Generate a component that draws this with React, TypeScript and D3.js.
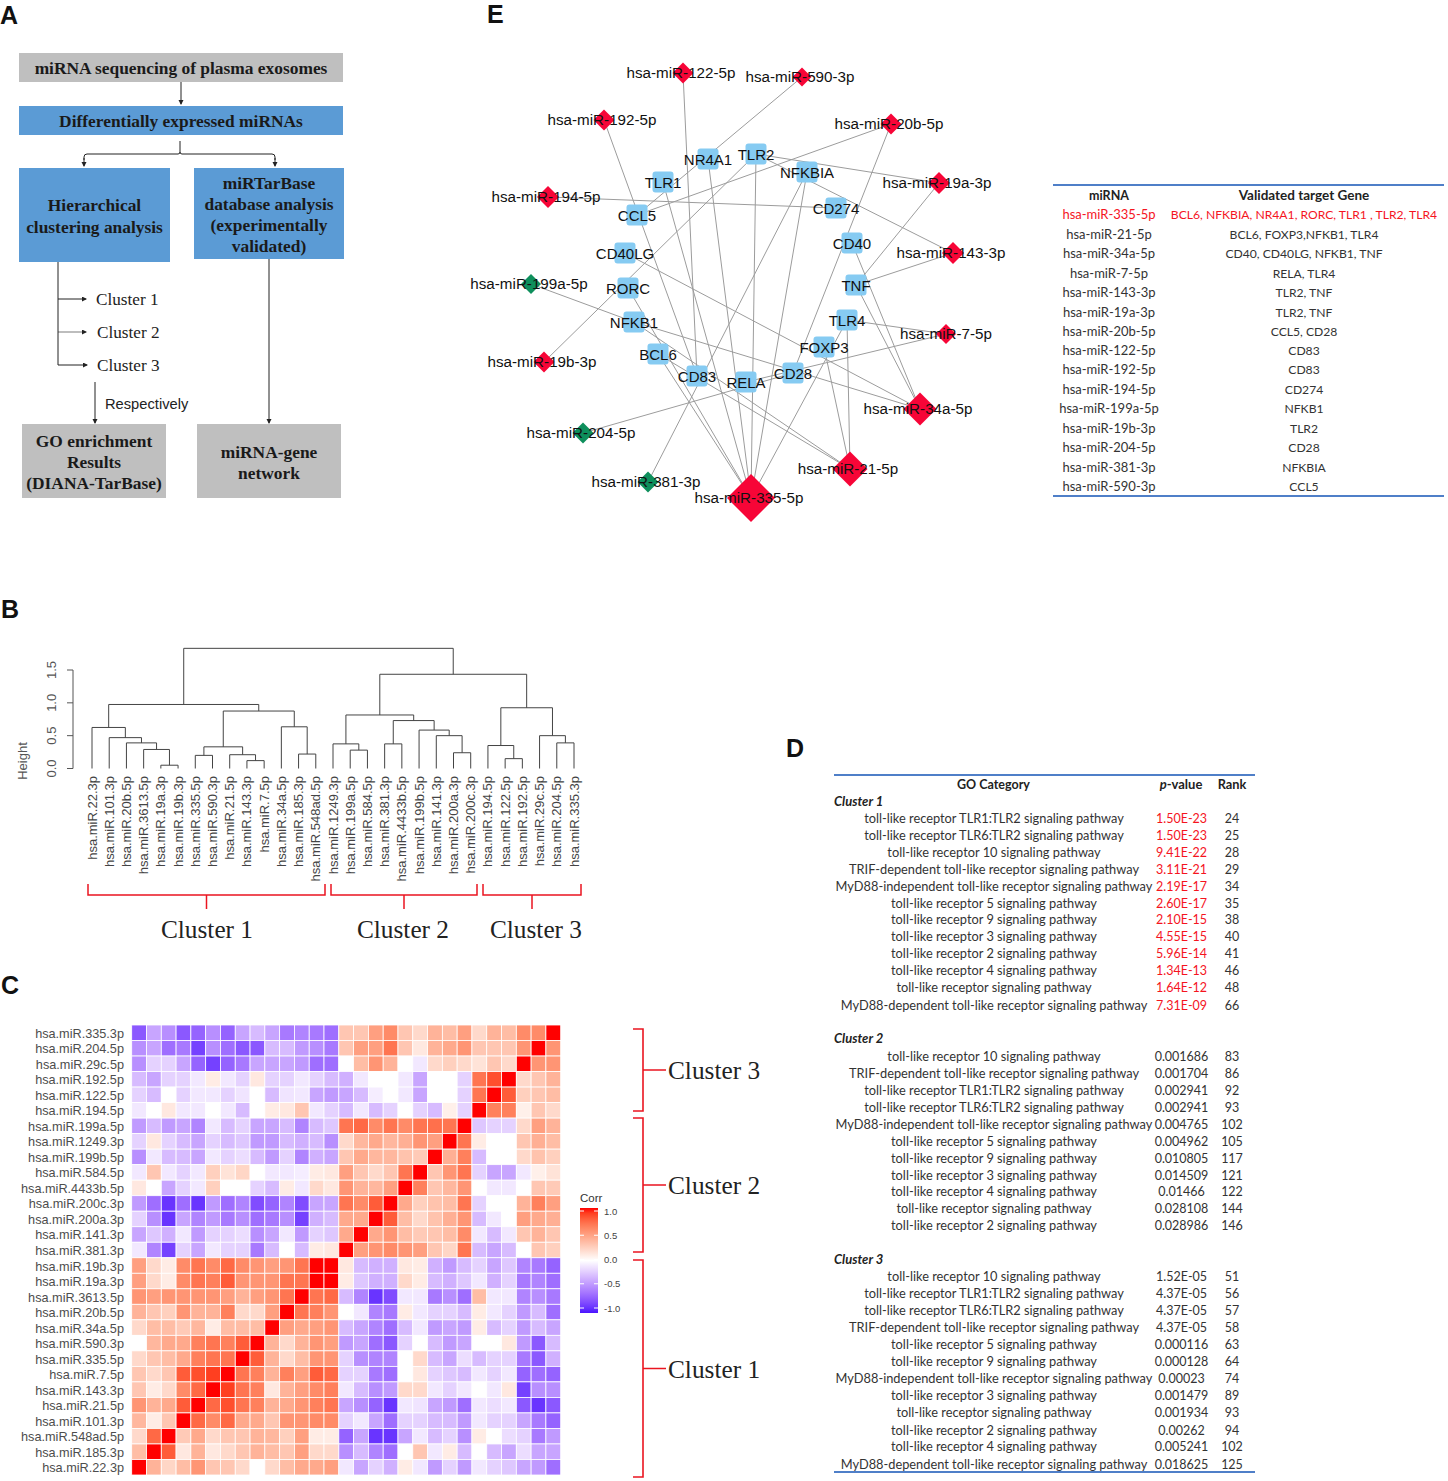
import React from "react";
import * as d3 from "d3";

// ---------- Panel B / C data ----------
const dendroLeaves = ["hsa.miR.22.3p","hsa.miR.101.3p","hsa.miR.20b.5p","hsa.miR.3613.5p","hsa.miR.19a.3p","hsa.miR.19b.3p","hsa.miR.335.5p","hsa.miR.590.3p","hsa.miR.21.5p","hsa.miR.143.3p","hsa.miR.7.5p","hsa.miR.34a.5p","hsa.miR.185.3p","hsa.miR.548ad.5p","hsa.miR.1249.3p","hsa.miR.199a.5p","hsa.miR.584.5p","hsa.miR.381.3p","hsa.miR.4433b.5p","hsa.miR.199b.5p","hsa.miR.141.3p","hsa.miR.200a.3p","hsa.miR.200c.3p","hsa.miR.194.5p","hsa.miR.122.5p","hsa.miR.192.5p","hsa.miR.29c.5p","hsa.miR.204.5p","hsa.miR.335.3p"];
// Merges: [left, right, height]. number = leaf index, "mN" = merge N
const dendroMerges: [string | number, string | number, number][] = [
  [4, 5, 0.05],        // m0
  [3, "m0", 0.29],     // m1
  [2, "m1", 0.39],     // m2
  [1, "m2", 0.47],     // m3
  [0, "m3", 0.625],    // m4
  [6, 7, 0.2],         // m5
  [9, 10, 0.12],       // m6
  [8, "m6", 0.21],     // m7
  ["m5", "m7", 0.33],  // m8
  [12, 13, 0.22],      // m9
  [11, "m9", 0.635],   // m10
  ["m8", "m10", 0.875],// m11
  ["m4", "m11", 0.975],// m12
  [15, 16, 0.28],      // m13
  [14, "m13", 0.375],  // m14
  [21, 22, 0.24],      // m15
  [20, "m15", 0.5],    // m16
  [19, "m16", 0.585],  // m17
  [17, 18, 0.375],     // m18
  ["m18", "m17", 0.73],// m19
  ["m14", "m19", 0.815],// m20
  [24, 25, 0.15],      // m21
  [23, "m21", 0.35],   // m22
  [27, 28, 0.39],      // m23
  [26, "m23", 0.5],    // m24
  ["m22", "m24", 0.925],// m25
  ["m20", "m25", 1.435],// m26
  ["m12", "m26", 1.83],// m27
];
const heightTicks = [0, 0.5, 1, 1.5];

const heatRows = ["hsa.miR.335.3p","hsa.miR.204.5p","hsa.miR.29c.5p","hsa.miR.192.5p","hsa.miR.122.5p","hsa.miR.194.5p","hsa.miR.199a.5p","hsa.miR.1249.3p","hsa.miR.199b.5p","hsa.miR.584.5p","hsa.miR.4433b.5p","hsa.miR.200c.3p","hsa.miR.200a.3p","hsa.miR.141.3p","hsa.miR.381.3p","hsa.miR.19b.3p","hsa.miR.19a.3p","hsa.miR.3613.5p","hsa.miR.20b.5p","hsa.miR.34a.5p","hsa.miR.590.3p","hsa.miR.335.5p","hsa.miR.7.5p","hsa.miR.143.3p","hsa.miR.21.5p","hsa.miR.101.3p","hsa.miR.548ad.5p","hsa.miR.185.3p","hsa.miR.22.3p"];
const heatValues: number[][] = [
[-.75,-.4,-.5,-.75,-.7,-.5,-.7,-.4,-.3,-.4,-.6,-.55,-.6,-.65,.3,.3,.5,.6,.3,.2,.4,.35,.5,.2,.4,.35,.6,.6,1],
[-.5,-.4,-.65,-.6,-.85,-.5,-.65,-.75,-.75,-.3,-.3,-.45,-.5,-.6,.3,.5,.5,.7,.3,.12,.4,.45,.55,.3,.3,.3,.55,1,.55],
[-.5,-.2,-.2,-.4,-.7,-.85,-.7,-.6,-.4,-.4,-.4,-.45,-.65,-.65,0,.35,.55,.4,0,-.1,.2,.25,.2,.15,.3,.2,1,.55,.55],
[-.3,-.4,-.2,-.2,-.1,.1,-.1,-.2,.12,-.2,-.2,-.1,-.2,-.3,-.35,-.1,0,0,-.1,-.4,0,0,-.2,.7,.85,1,.2,.3,.4],
[-.2,-.3,0,-.2,-.1,-.1,-.2,-.12,0,-.3,-.12,-.1,-.4,-.45,-.4,-.3,-.08,0,-.1,-.4,0,0,-.2,.7,1,.8,.25,.3,.35],
[-.1,0,.12,-.1,-.1,0,-.1,-.3,0,.1,.12,.3,-.1,-.2,-.3,-.1,-.3,-.2,0,-.2,-.3,.08,-.2,1,.65,.65,.08,.3,.2],
[-.45,-.3,-.45,-.4,-.55,-.1,-.3,-.2,-.4,-.4,-.3,-.55,-.3,-.25,.7,.75,.6,.7,.6,.7,.72,.7,1,-.25,-.2,-.2,.2,.5,.4],
[-.2,.12,-.2,-.3,-.4,-.2,-.3,-.25,-.45,-.45,-.3,-.35,-.3,-.5,.2,.38,.45,.38,.42,.55,.5,1,.7,.1,0,0,.3,.42,.35],
[-.5,-.1,-.3,-.3,-.4,-.1,-.2,-.15,-.3,-.45,-.2,-.55,-.35,-.4,.3,.45,.38,.38,.32,.28,1,.42,.65,-.3,0,0,.2,.32,.25],
[-.1,.3,-.1,-.2,-.1,.25,.15,.22,0,-.1,-.1,-.08,.1,.12,.5,.3,.2,.3,.7,1,.3,.55,.7,-.2,-.4,-.4,-.1,.08,.15],
[.12,0,-.4,-.2,-.1,.25,0,0,-.2,-.3,.1,-.1,.2,.12,.55,.4,.38,.5,1,.65,.3,.38,.55,0,-.1,-.1,0,.3,.28],
[-.45,-.65,-.9,-.65,-.9,-.45,-.65,-.55,-.8,-.7,-.55,-.8,-.4,-.4,.7,.6,.8,1,.45,.25,.32,.35,.7,-.2,0,0,.4,.65,.5],
[-.2,-.5,-.9,-.4,-.55,-.45,-.6,-.5,-.65,-.6,-.5,-.85,-.35,-.3,.45,.45,1,.8,.35,.2,.32,.42,.55,-.3,-.1,0,.5,.45,.42],
[-.4,-.25,-.35,-.1,-.45,-.2,-.2,-.15,-.5,-.4,-.1,-.45,-.2,-.25,.45,1,.45,.55,.35,.28,.3,.35,.6,-.1,-.3,-.1,.3,.4,.3],
[-.1,-.55,-.85,-.2,-.4,-.1,-.2,-.2,-.6,-.3,0,-.3,.1,.12,1,.5,.55,.6,.55,.5,.3,.22,.7,-.3,-.4,-.3,0,.3,.25],
[.5,.2,.1,.6,.7,.6,.75,.6,.55,.5,.55,.7,1,1,.12,-.3,-.35,-.35,.12,.1,-.35,-.45,-.3,-.2,-.4,-.25,-.55,-.6,-.7],
[.5,.2,.1,.6,.7,.65,.8,.55,.55,.55,.7,.7,1,1,.1,-.25,-.35,-.35,.2,.1,-.3,-.35,-.25,-.1,-.35,-.2,-.6,-.55,-.65],
[.55,.5,.55,.55,.55,.55,.5,.4,.5,.55,.7,1,.7,.75,-.3,-.55,-.9,-.8,-.1,-.1,-.6,-.5,-.65,.35,-.1,-.1,-.55,-.5,-.6],
[.4,.3,.25,.55,.4,.4,.65,.2,.2,.5,1,.7,.65,.55,0,-.1,-.55,-.6,.1,-.1,-.2,-.2,-.3,.1,-.1,-.2,-.45,-.3,-.65],
[.2,.35,.35,.28,.38,.1,.35,.35,.35,1,.5,.45,.5,.55,-.3,-.4,-.55,-.65,-.3,-.1,-.45,-.4,-.45,.1,-.3,-.2,-.45,-.3,-.4],
[0,.38,.45,.45,.65,.7,.65,.8,1,.4,.2,.4,.55,.5,-.45,-.4,-.65,-.75,-.2,0,-.3,-.45,-.4,0,0,.12,-.45,-.75,-.3],
[.2,.3,.35,.45,.65,.7,.7,1,.8,.4,.2,.35,.55,.55,-.2,-.5,-.55,-.55,0,.2,-.3,-.4,-.15,-.3,-.2,-.2,-.6,-.75,-.35],
[.3,.2,.3,.8,.85,.9,1,.7,.65,.4,.65,.5,.8,.75,-.2,-.2,-.6,-.65,0,.12,-.2,-.25,-.3,-.1,-.2,-.1,-.7,-.65,-.7],
[.3,.1,.2,.6,.75,1,.9,.7,.65,.12,.4,.5,.6,.65,-.1,-.3,-.5,-.45,.2,.2,-.1,-.2,-.1,0,-.1,.12,-.85,-.5,-.5],
[.55,.4,.45,.8,1,.75,.85,.7,.65,.4,.45,.55,.65,.7,-.4,-.5,-.7,-.9,-.1,-.12,-.4,-.45,-.65,-.1,-.15,-.1,-.75,-.9,-.75],
[.38,.1,.3,1,.75,.6,.75,.45,.45,.3,.55,.55,.6,.6,-.2,-.1,-.4,-.65,-.2,-.2,-.3,-.3,-.45,-.1,-.2,-.2,-.4,-.6,-.7],
[.2,.75,1,.28,.45,.2,.3,.3,.4,.38,.25,.5,.1,.1,-.7,-.4,-.9,-.9,-.4,-.1,-.3,-.2,-.5,.1,0,-.15,-.2,-.6,-.45],
[.35,1,.8,.12,.4,.12,.2,.3,.4,.35,.3,.5,.2,.2,-.5,-.3,-.55,-.65,0,.3,-.1,.1,-.3,0,-.3,-.4,-.15,-.4,-.4],
[1,.4,.22,.35,.55,.3,.3,.2,0,.2,.35,.45,.45,.5,-.1,-.4,-.2,-.35,.1,-.1,-.45,-.2,-.45,-.1,-.2,-.25,-.4,-.45,-.65],
];
const corrTicks = [1, 0.5, 0, -0.5, -1];

// ---------- Panel E data ----------
const geneNames = ["NR4A1","TLR2","TLR1","NFKBIA","CCL5","CD274","CD40","CD40LG","TNF","RORC","NFKB1","TLR4","BCL6","FOXP3","CD83","CD28","RELA"];
const geneX = [708,756,663,807,637,836,852,625,856,628,634,847,658,824,697,793,746];
const geneY = [159,154,182,172,215,208,243,253,285,288,322,320,354,347,376,373,382];
const mirNames = ["hsa-miR-122-5p","hsa-miR-590-3p","hsa-miR-192-5p","hsa-miR-20b-5p","hsa-miR-19a-3p","hsa-miR-194-5p","hsa-miR-143-3p","hsa-miR-199a-5p","hsa-miR-19b-3p","hsa-miR-7-5p","hsa-miR-34a-5p","hsa-miR-21-5p","hsa-miR-335-5p","hsa-miR-204-5p","hsa-miR-381-3p"];
const mirX = [683,802,604,891,939,548,953,531,544,946,920,850,751,583,648];
const mirY = [73,77,120,124,183,197,253,284,362,334,409,469,498,433,482];
const mirSize = [10.5,9.5,10.5,10.5,11,11,11,10,10.5,10,16.5,17.5,24,10.5,10.5];
const mirDown = ["hsa-miR-199a-5p","hsa-miR-204-5p","hsa-miR-381-3p"];
const targetTable: [string, string][] = [
  ["hsa-miR-335-5p","BCL6, NFKBIA, NR4A1, RORC, TLR1 , TLR2, TLR4"],
  ["hsa-miR-21-5p","BCL6, FOXP3,NFKB1, TLR4"],
  ["hsa-miR-34a-5p","CD40, CD40LG, NFKB1, TNF"],
  ["hsa-miR-7-5p","RELA, TLR4"],
  ["hsa-miR-143-3p","TLR2, TNF"],
  ["hsa-miR-19a-3p","TLR2, TNF"],
  ["hsa-miR-20b-5p","CCL5, CD28"],
  ["hsa-miR-122-5p","CD83"],
  ["hsa-miR-192-5p","CD83"],
  ["hsa-miR-194-5p","CD274"],
  ["hsa-miR-199a-5p","NFKB1"],
  ["hsa-miR-19b-3p","TLR2"],
  ["hsa-miR-204-5p","CD28"],
  ["hsa-miR-381-3p","NFKBIA"],
  ["hsa-miR-590-3p","CCL5"],
];
const targetRowY = [214.5,234,253.5,273,292.5,312,331.5,350,369.5,389,408,428,447.5,467,486.5];

// ---------- Panel D data ----------
const T = (s: string) => `toll-like receptor ${s} signaling pathway`;
const tIR = "toll-like receptor signaling pathway";
const tTRIF = "TRIF-dependent toll-like receptor signaling pathway";
const tMI = "MyD88-independent toll-like receptor signaling pathway";
const tMD = "MyD88-dependent toll-like receptor signaling pathway";
const cluster1Terms = [T("TLR1:TLR2"),T("TLR6:TLR2"),T("10"),tTRIF,tMI,T("5"),T("9"),T("3"),T("2"),T("4"),tIR,tMD];
const cluster1P = ["1.50E-23","1.50E-23","9.41E-22","3.11E-21","2.19E-17","2.60E-17","2.10E-15","4.55E-15","5.96E-14","1.34E-13","1.64E-12","7.31E-09"];
const cluster1Rank = [24,25,28,29,34,35,38,40,41,46,48,66];
const cluster1Y = [818,835,852,869.5,886,903,919.5,936.5,953,970,987,1005];
const cluster2Terms = [T("10"),tTRIF,T("TLR1:TLR2"),T("TLR6:TLR2"),tMI,T("5"),T("9"),T("3"),T("4"),tIR,T("2")];
const cluster2P = ["0.001686","0.001704","0.002941","0.002941","0.004765","0.004962","0.010805","0.014509","0.01466","0.028108","0.028986"];
const cluster2Rank = [83,86,92,93,102,105,117,121,122,144,146];
const cluster2Y = [1056,1073,1090,1107,1124,1141,1158,1175,1191,1208,1225];
const cluster3Terms = [T("10"),T("TLR1:TLR2"),T("TLR6:TLR2"),tTRIF,T("5"),T("9"),tMI,T("3"),tIR,T("2"),T("4"),tMD];
const cluster3P = ["1.52E-05","4.37E-05","4.37E-05","4.37E-05","0.000116","0.000128","0.00023","0.001479","0.001934","0.00262","0.005241","0.018625"];
const cluster3Rank = [51,56,57,58,63,64,74,89,93,94,102,125];
const cluster3Y = [1276,1293,1310,1327,1344,1361,1378,1395,1412,1430,1446,1464];

// ---------- Fonts / colours ----------
const SANS = "'Liberation Sans', Arial, sans-serif";
const SERIF = "'Liberation Serif', 'Times New Roman', serif";
const CAL = "Lato, sans-serif";
const BLUE = "#5b9bd5";
const GRAY = "#bfbfbf";
const RED = "#ea1520";
const RULE = "#4f7fc8";

function Arrow({ x1, y1, x2, y2, w = 1 }: { x1: number; y1: number; x2: number; y2: number; w?: number }) {
  return <line x1={x1} y1={y1} x2={x2} y2={y2} stroke="#222" strokeWidth={w} markerEnd="url(#ah)" />;
}

function PanelA() {
  const box = (x: number, y: number, w: number, h: number, fill: string, lines: string[], ys: number[]) => (
    <g>
      <rect x={x} y={y} width={w} height={h} fill={fill} />
      {lines.map((t, i) => (
        <text key={i} x={x + w / 2} y={ys[i]} textAnchor="middle" fontFamily={SERIF} fontWeight="bold" fontSize={17.4} fill="#1a1a1a">{t}</text>
      ))}
    </g>
  );
  return (
    <g>
      {box(19, 53, 324, 29, GRAY, ["miRNA sequencing of plasma exosomes"], [73.5])}
      {box(19, 106, 324, 29, BLUE, ["Differentially expressed miRNAs"], [127])}
      {box(19, 168, 151, 94, BLUE, ["Hierarchical", "clustering analysis"], [211, 232.5])}
      {box(194, 168, 150, 91, BLUE, ["miRTarBase", "database analysis", "(experimentally", "validated)"], [188.5, 209.5, 230.5, 251.5])}
      {box(22, 424, 144, 74, GRAY, ["GO enrichment", "Results", "(DIANA-TarBase)"], [446.5, 467.5, 488.5])}
      {box(197, 424, 144, 74, GRAY, ["miRNA-gene", "network"], [457.5, 478.5])}
      <Arrow x1={181} y1={82} x2={181} y2={104} />
      <path d="M180 141 L180 152 Q180 154 178 154 L87 154 Q84 154 84 157 L84 160 M180 152 Q180 154 182 154 L272 154 Q275 154 275 157 L275 160" fill="none" stroke="#222" strokeWidth={1} />
      <Arrow x1={84} y1={158} x2={84} y2={166} />
      <Arrow x1={275} y1={158} x2={275} y2={166} />
      <line x1={58} y1={262} x2={58} y2={365} stroke="#222" strokeWidth={1} />
      <Arrow x1={58} y1={299} x2={86} y2={299} />
      <Arrow x1={58} y1={332} x2={86} y2={332} w={0.6} />
      <Arrow x1={58} y1={365} x2={87} y2={365} />
      <Arrow x1={95} y1={382} x2={95} y2={423} />
      <Arrow x1={269} y1={259} x2={269} y2={423} />
      <text x={96} y={305} fontFamily={SERIF} fontSize={17.2} fill="#222">Cluster 1</text>
      <text x={97} y={338} fontFamily={SERIF} fontSize={17.2} fill="#222">Cluster 2</text>
      <text x={97} y={371} fontFamily={SERIF} fontSize={17.2} fill="#222">Cluster 3</text>
      <text x={105} y={409} fontFamily={SANS} fontSize={14.7} fill="#222">Respectively</text>
    </g>
  );
}

function PanelB() {
  const x = d3.scalePoint<number>().domain(d3.range(dendroLeaves.length)).range([92, 574]);
  const y = d3.scaleLinear().domain([0, 1.5]).range([768.5, 670]);
  const nodes: { x: number; h: number }[] = [];
  const resolve = (r: string | number) => {
    if (typeof r === "number") return { x: x(r) as number, h: 0 };
    return nodes[+r.slice(1)];
  };
  const paths: string[] = [];
  dendroMerges.forEach(([a, b, h]) => {
    const A = resolve(a), B = resolve(b);
    paths.push(`M${A.x} ${y(A.h)}V${y(h)}H${B.x}V${y(B.h)}`);
    nodes.push({ x: (A.x + B.x) / 2, h });
  });
  const brackets: [number, number, string, number][] = [
    [88, 325, "Cluster 1", 207],
    [331, 477, "Cluster 2", 403],
    [483, 581, "Cluster 3", 536],
  ];
  return (
    <g>
      {paths.map((d, i) => <path key={i} d={d} fill="none" stroke="#444" strokeWidth={1} />)}
      <path d={`M73 ${y(0)}V${y(1.5)}`} stroke="#555" fill="none" />
      {heightTicks.map(t => (
        <g key={t}>
          <line x1={67} x2={73} y1={y(t)} y2={y(t)} stroke="#555" />
          <text transform={`translate(56,${y(t)}) rotate(-90)`} textAnchor="middle" fontFamily={SANS} fontSize={13} fill="#555">{t.toFixed(1)}</text>
        </g>
      ))}
      <text transform="translate(27,761) rotate(-90)" textAnchor="middle" fontFamily={SANS} fontSize={13} fill="#555">Height</text>
      {dendroLeaves.map((l, i) => (
        <text key={l} transform={`translate(${(x(i) as number) + 4.5},776) rotate(-90)`} textAnchor="end" fontFamily={SANS} fontSize={13} fill="#444">{l}</text>
      ))}
      {brackets.map(([a, b, t, c]) => (
        <g key={t}>
          <path d={`M${a} 884V895H${b}V884M${(a + b) / 2} 895V909`} fill="none" stroke={RED} strokeWidth={1.5} />
          <text x={c} y={938} textAnchor="middle" fontFamily={SERIF} fontSize={25.3} fill="#222">{t}</text>
        </g>
      ))}
    </g>
  );
}

function PanelC() {
  const x = d3.scaleBand<number>().domain(d3.range(29)).range([131.7, 560.7]);
  const y = d3.scaleBand<string>().domain(heatRows).range([1025, 1475]);
  const color = d3.scaleLinear<string>().domain([-1, 0, 1]).range(["#4a14ff", "white", "red"]).interpolate(d3.interpolateLab);
  const legendY = d3.scaleLinear().domain([-1, 1]).range([1308, 1211]);
  const stops = d3.range(-1, 1.001, 0.1);
  const brackets: [number, number, string][] = [
    [1029, 1111, "Cluster 3"],
    [1118, 1252, "Cluster 2"],
    [1260, 1477, "Cluster 1"],
  ];
  return (
    <g>
      {heatRows.map((r, ri) => (
        <g key={r}>
          <text x={124} y={(y(r) as number) + y.bandwidth() / 2 + 5} textAnchor="end" fontFamily={SANS} fontSize={12.7} fill="#4d4d4d">{r}</text>
          {heatValues[ri].map((v, ci) => (
            <rect key={ci} x={x(ci)} y={y(r)} width={x.bandwidth()} height={y.bandwidth()} fill={color(v)} stroke="white" strokeWidth={0.8} />
          ))}
        </g>
      ))}
      <defs>
        <linearGradient id="corr" x1="0" y1="1" x2="0" y2="0">
          {stops.map(s => <stop key={s} offset={(s + 1) / 2} stopColor={color(s)} />)}
        </linearGradient>
      </defs>
      <text x={580} y={1202} fontFamily={SANS} fontSize={11.5} fill="#333">Corr</text>
      <rect x={580} y={1208} width={18} height={105} fill="url(#corr)" />
      {corrTicks.map(t => (
        <g key={t}>
          <line x1={580} x2={584} y1={legendY(t)} y2={legendY(t)} stroke="white" />
          <line x1={594} x2={598} y1={legendY(t)} y2={legendY(t)} stroke="white" />
          <text x={604} y={legendY(t) + 3.5} fontFamily={SANS} fontSize={9.5} fill="#444">{t.toFixed(1)}</text>
        </g>
      ))}
      {brackets.map(([a, b, t]) => (
        <g key={t}>
          <path d={`M633 ${a}H643V${b}H633M643 ${(a + b) / 2}H666`} fill="none" stroke={RED} strokeWidth={1.6} />
          <text x={668} y={(a + b) / 2 + 9} fontFamily={SERIF} fontSize={25.3} fill="#222">{t}</text>
        </g>
      ))}
    </g>
  );
}

function PanelE() {
  const pos = new Map<string, [number, number]>();
  geneNames.forEach((g, i) => pos.set(g, [geneX[i], geneY[i]]));
  mirNames.forEach((m, i) => pos.set(m, [mirX[i], mirY[i]]));
  const edges: [string, string][] = [];
  targetTable.forEach(([m, ts]) => ts.split(",").forEach(t => edges.push([m, t.trim()])));
  const line = d3.line();
  return (
    <g>
      {edges.map(([a, b], i) => (
        <path key={i} d={line([pos.get(a)!, pos.get(b)!]) as string} stroke="#9c9c9c" strokeWidth={1} fill="none" />
      ))}
      {geneNames.map((g, i) => (
        <rect key={g} x={geneX[i] - 10.5} y={geneY[i] - 10.5} width={21} height={21} rx={3} fill="#86cbf2" />
      ))}
      {mirNames.map((m, i) => {
        const s = mirSize[i];
        const cx = mirX[i], cy = mirY[i];
        return <path key={m} d={`M${cx} ${cy - s}L${cx + s} ${cy}L${cx} ${cy + s}L${cx - s} ${cy}Z`} fill={mirDown.includes(m) ? "#0e8f5c" : "#f70537"} />;
      })}
      {geneNames.map((g, i) => (
        <text key={g} x={geneX[i]} y={geneY[i] + 5.5} textAnchor="middle" fontFamily={SANS} fontSize={15} fill="#111">{g}</text>
      ))}
      {mirNames.map((m, i) => (
        <text key={m} x={mirX[i] - (m === "hsa-miR-7-5p" ? 0 : 2)} y={mirY[i] + 5} textAnchor="middle" fontFamily={SANS} fontSize={15.2} fill="#111">{m}</text>
      ))}
      <line x1={1053} x2={1444} y1={185} y2={185} stroke={RULE} strokeWidth={1.8} />
      <text x={1109} y={199.5} textAnchor="middle" fontFamily={CAL} fontWeight="bold" fontSize={12.5} fill="#222">miRNA</text>
      <text x={1304} y={199.5} textAnchor="middle" fontFamily={CAL} fontWeight="bold" fontSize={13.5} fill="#222">Validated target Gene</text>
      {targetTable.map(([m, g], i) => (
        <g key={m} fill={i === 0 ? "#f5141e" : "#333"} fontFamily={CAL}>
          <text x={1109} y={targetRowY[i] + 4.5} textAnchor="middle" fontSize={13}>{m}</text>
          <text x={1304} y={targetRowY[i] + 4.5} textAnchor="middle" fontSize={12.15}>{g}</text>
        </g>
      ))}
      <line x1={1053} x2={1444} y1={496} y2={496} stroke={RULE} strokeWidth={1.8} />
    </g>
  );
}

function PanelD() {
  const groups: [string, number, string[], string[], number[], number[], boolean][] = [
    ["Cluster 1", 805.5, cluster1Terms, cluster1P, cluster1Rank, cluster1Y, true],
    ["Cluster 2", 1042.5, cluster2Terms, cluster2P, cluster2Rank, cluster2Y, false],
    ["Cluster 3", 1263.5, cluster3Terms, cluster3P, cluster3Rank, cluster3Y, false],
  ];
  return (
    <g fontFamily={CAL} fontSize={12.5} fill="#333">
      <line x1={834} x2={1255} y1={775} y2={775} stroke={RULE} strokeWidth={1.8} />
      <g fontWeight="bold" fill="#222">
        <text x={993.5} y={789} textAnchor="middle" fontSize={12.5}>GO Category</text>
        <text x={1181} y={789} textAnchor="middle" fontSize={13}><tspan fontStyle="italic">p</tspan>-value</text>
        <text x={1232} y={789} textAnchor="middle" fontSize={12.8}>Rank</text>
      </g>
      {groups.map(([name, hy, terms, ps, ranks, ys, red]) => (
        <g key={name}>
          <text x={834} y={hy} fontWeight="bold" fontStyle="italic" fill="#222" fontSize={13}>{name}</text>
          {terms.map((t, i) => (
            <g key={i}>
              <text x={994} y={ys[i] + 4.5} textAnchor="middle" fontSize={12.8}>{t}</text>
              <text x={1181.5} y={ys[i] + 4.5} textAnchor="middle" fill={red ? "#f5141e" : "#333"}>{ps[i]}</text>
              <text x={1232} y={ys[i] + 4.5} textAnchor="middle">{ranks[i]}</text>
            </g>
          ))}
        </g>
      ))}
      <line x1={834} x2={1255} y1={1472} y2={1472} stroke={RULE} strokeWidth={1.8} />
    </g>
  );
}

const panelLetters: [string, number, number][] = [["A", 0, 24], ["B", 1, 618], ["C", 1, 994], ["D", 786, 757], ["E", 487, 23]];

export default function App() {
  return (
    <svg width={1448} height={1481} viewBox="0 0 1448 1481" style={{ position: "absolute", left: 0, top: 0, background: "white" }}>
      <defs>
        <marker id="ah" markerWidth={6} markerHeight={6} refX={4} refY={2.5} orient="auto" markerUnits="userSpaceOnUse">
          <path d="M0 0L5 2.5L0 5Z" fill="#222" />
        </marker>
      </defs>
      {panelLetters.map(([l, x, y]) => (
        <text key={l} x={x} y={y} fontFamily={SANS} fontWeight="bold" fontSize={25} fill="#111">{l}</text>
      ))}
      <PanelA />
      <PanelB />
      <PanelC />
      <PanelE />
      <PanelD />
    </svg>
  );
}
